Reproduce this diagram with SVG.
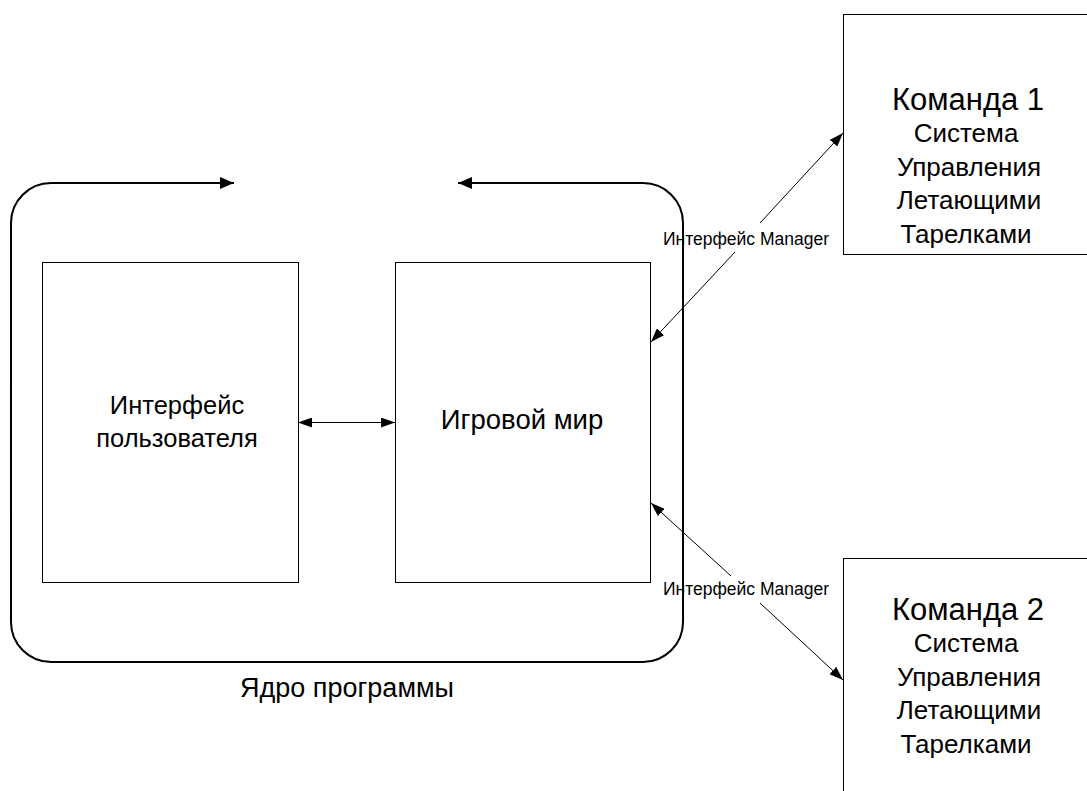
<svg xmlns="http://www.w3.org/2000/svg" width="1087" height="791" viewBox="0 0 1087 791">
  <style>
    .box { fill: #fff; stroke: #000; stroke-width: 1; }
    .frame { fill: none; stroke: #000; stroke-width: 2; }
    .link { fill: none; stroke: #000; stroke-width: 1; }
    text { font-family: "Liberation Sans", Arial, sans-serif; fill: #000; text-anchor: middle; }
    .big { font-size: 26px; }
    .title { font-size: 31px; }
    .small { font-size: 17.5px; }
  </style>
  <defs>
    <marker id="headBold" viewBox="0 0 14 12" refX="14" refY="6" markerWidth="14" markerHeight="12" markerUnits="userSpaceOnUse" orient="auto-start-reverse">
      <path d="M0,0 L14,6 L0,12 Z" fill="#000"/>
    </marker>
    <marker id="head" viewBox="0 0 14 10" refX="14" refY="5" markerWidth="14" markerHeight="10" markerUnits="userSpaceOnUse" orient="auto-start-reverse">
      <path d="M0,0 L14,5 L0,10 Z" fill="#000"/>
    </marker>
  </defs>

  <!-- program core: rounded frame with the cycle arrows on top -->
  <g id="core">
    <path class="frame" d="M458,183 H643 A40,40 0 0 1 683,223 V622 A40,40 0 0 1 643,662 H51 A40,40 0 0 1 11,622 V223 A40,40 0 0 1 51,183 H234" marker-start="url(#headBold)" marker-end="url(#headBold)"/>
    <text x="347" y="697" style="font-size:27px">Ядро программы</text>
  </g>

  <g id="ui">
    <rect class="box" x="42.5" y="262.5" width="256" height="320"/>
    <text x="177" y="414" style="font-size:25.5px">Интерфейс</text>
    <text x="177" y="447" style="font-size:25.5px">пользователя</text>
  </g>

  <g id="world">
    <rect class="box" x="395.5" y="262.5" width="255" height="320"/>
    <text x="522" y="429" style="font-size:27.5px">Игровой мир</text>
  </g>

  <g id="team1">
    <rect class="box" x="843.5" y="14.5" width="250" height="240"/>
    <text class="title" x="968" y="110">Команда 1</text>
    <text class="big" x="966" y="142">Система</text>
    <text class="big" x="969" y="176">Управления</text>
    <text class="big" x="969" y="209">Летающими</text>
    <text class="big" x="966" y="243">Тарелками</text>
  </g>

  <g id="team2">
    <rect class="box" x="843.5" y="558.5" width="250" height="240"/>
    <text class="title" x="968" y="620">Команда 2</text>
    <text class="big" x="966" y="652">Система</text>
    <text class="big" x="969" y="686">Управления</text>
    <text class="big" x="969" y="719">Летающими</text>
    <text class="big" x="966" y="753">Тарелками</text>
  </g>

  <g id="connectors">
    <line class="link" x1="298" y1="422.5" x2="395" y2="422.5" marker-start="url(#head)" marker-end="url(#head)"/>
    <path class="link" d="M735,252 L651,342" marker-end="url(#head)"/>
    <path class="link" d="M760,223 L843,133" marker-end="url(#head)"/>
    <path class="link" d="M731,576 L651,503" marker-end="url(#head)"/>
    <path class="link" d="M760,603 L843,680" marker-end="url(#head)"/>
    <text class="small" x="746" y="245">Интерфейс Manager</text>
    <text class="small" x="746" y="595">Интерфейс Manager</text>
  </g>
</svg>
